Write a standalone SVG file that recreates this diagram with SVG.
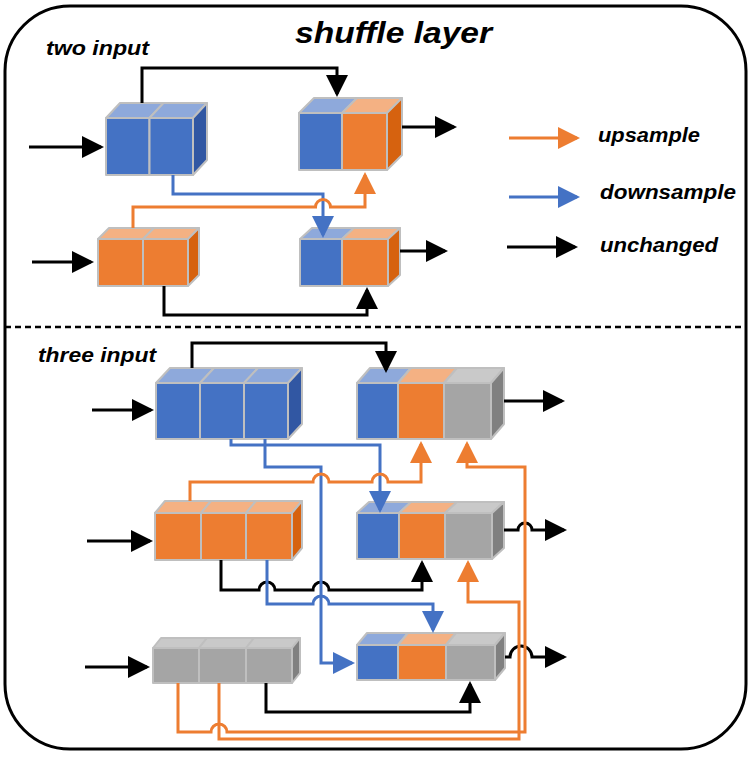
<svg xmlns="http://www.w3.org/2000/svg" width="754" height="768" viewBox="0 0 754 768">
<defs>
<style>
.cell{stroke:#BFBFBF;stroke-width:2;stroke-linejoin:round}
.bf{fill:#4472C4}.bt{fill:#8EA9DB}.bs{fill:#3157A3}
.of{fill:#ED7D31}.ot{fill:#F4B183}.os{fill:#D6620F}
.gf{fill:#A5A5A5}.gt{fill:#C9C9C9}.gs{fill:#808080}
.ln{fill:none;stroke-width:3;stroke-linejoin:miter}
.k{stroke:#000}.o{stroke:#ED7D31}.b{stroke:#4472C4}
.ka{marker-end:url(#ak)}.oa{marker-end:url(#ao)}.ba{marker-end:url(#ab)}
.t{font-family:"Liberation Sans",Arial,sans-serif;font-weight:bold;font-style:italic;fill:#000}
</style>
<marker id="ak" markerUnits="userSpaceOnUse" markerWidth="22" markerHeight="22" viewBox="0 0 22 22" refX="19" refY="11" orient="auto"><path d="M0,0 L22,11 L0,22 z" fill="#000"/></marker>
<marker id="ao" markerUnits="userSpaceOnUse" markerWidth="22" markerHeight="22" viewBox="0 0 22 22" refX="19" refY="11" orient="auto"><path d="M0,0 L22,11 L0,22 z" fill="#ED7D31"/></marker>
<marker id="ab" markerUnits="userSpaceOnUse" markerWidth="22" markerHeight="22" viewBox="0 0 22 22" refX="19" refY="11" orient="auto"><path d="M0,0 L22,11 L0,22 z" fill="#4472C4"/></marker>
</defs>
<rect x="0" y="0" width="754" height="768" fill="#fff"/>
<rect x="5" y="6" width="741" height="743" rx="65" ry="65" fill="none" stroke="#000" stroke-width="3"/>
<line x1="5" y1="327" x2="746" y2="327" stroke="#000" stroke-width="2.5" stroke-dasharray="6 4"/>

<text class="t" x="295" y="43" font-size="29" textLength="197" lengthAdjust="spacingAndGlyphs">shuffle layer</text>
<text class="t" x="46" y="55" font-size="20" textLength="103" lengthAdjust="spacingAndGlyphs">two input</text>
<text class="t" x="38" y="362" font-size="21" textLength="118" lengthAdjust="spacingAndGlyphs">three input</text>

<g id="legend">
<text class="t" x="598" y="142" font-size="21" textLength="102" lengthAdjust="spacingAndGlyphs">upsample</text>
<text class="t" x="600" y="199" font-size="21" textLength="136" lengthAdjust="spacingAndGlyphs">downsample</text>
<text class="t" x="600" y="252" font-size="21" textLength="118" lengthAdjust="spacingAndGlyphs">unchanged</text>
</g>

<g id="boxA">
<rect class="cell bf" x="106" y="118" width="43.5" height="57"/>
<rect class="cell bf" x="149.5" y="118" width="43.5" height="57"/>
<polygon class="cell bt" points="106,118 120,103 163.5,103 149.5,118"/>
<polygon class="cell bt" points="149.5,118 163.5,103 207,103 193,118"/>
<polygon class="cell bs" points="193,118 207,103 207,160 193,175"/>
</g>
<g id="boxB">
<rect class="cell bf" x="299" y="113" width="43" height="57"/>
<rect class="cell of" x="342" y="113" width="45" height="57"/>
<polygon class="cell bt" points="299,113 314,98 357,98 342,113"/>
<polygon class="cell ot" points="342,113 357,98 402,98 387,113"/>
<polygon class="cell os" points="387,113 402,98 402,155 387,170"/>
</g>
<g id="boxC">
<rect class="cell of" x="98" y="239" width="45" height="47"/>
<rect class="cell of" x="143" y="239" width="45" height="47"/>
<polygon class="cell ot" points="98,239 109,228 154,228 143,239"/>
<polygon class="cell ot" points="143,239 154,228 199,228 188,239"/>
<polygon class="cell os" points="188,239 199,228 199,275 188,286"/>
</g>
<g id="boxD">
<rect class="cell bf" x="300" y="239" width="42" height="47"/>
<rect class="cell of" x="342" y="239" width="46" height="47"/>
<polygon class="cell bt" points="300,239 312,228 354,228 342,239"/>
<polygon class="cell ot" points="342,239 354,228 400,228 388,239"/>
<polygon class="cell os" points="388,239 400,228 400,275 388,286"/>
</g>
<g id="boxE">
<rect class="cell bf" x="156" y="383" width="44" height="56"/>
<rect class="cell bf" x="200" y="383" width="44" height="56"/>
<rect class="cell bf" x="244" y="383" width="44" height="56"/>
<polygon class="cell bt" points="156,383 170,368 214,368 200,383"/>
<polygon class="cell bt" points="200,383 214,368 258,368 244,383"/>
<polygon class="cell bt" points="244,383 258,368 302,368 288,383"/>
<polygon class="cell bs" points="288,383 302,368 302,424 288,439"/>
</g>
<g id="boxF">
<rect class="cell bf" x="357" y="383" width="41" height="56"/>
<rect class="cell of" x="398" y="383" width="46" height="56"/>
<rect class="cell gf" x="444" y="383" width="47" height="56"/>
<polygon class="cell bt" points="357,383 370,368 411,368 398,383"/>
<polygon class="cell ot" points="398,383 411,368 457,368 444,383"/>
<polygon class="cell gt" points="444,383 457,368 504,368 491,383"/>
<polygon class="cell gs" points="491,383 504,368 504,424 491,439"/>
</g>
<g id="boxG">
<rect class="cell of" x="155" y="513" width="46" height="47"/>
<rect class="cell of" x="201" y="513" width="45" height="47"/>
<rect class="cell of" x="246" y="513" width="46" height="47"/>
<polygon class="cell ot" points="155,513 165,501 211,501 201,513"/>
<polygon class="cell ot" points="201,513 211,501 256,501 246,513"/>
<polygon class="cell ot" points="246,513 256,501 302,501 292,513"/>
<polygon class="cell os" points="292,513 302,501 302,548 292,560"/>
</g>
<g id="boxH">
<rect class="cell bf" x="357" y="513" width="42" height="46"/>
<rect class="cell of" x="399" y="513" width="46" height="46"/>
<rect class="cell gf" x="445" y="513" width="47" height="46"/>
<polygon class="cell bt" points="357,513 369,502 411,502 399,513"/>
<polygon class="cell ot" points="399,513 411,502 457,502 445,513"/>
<polygon class="cell gt" points="445,513 457,502 504,502 492,513"/>
<polygon class="cell gs" points="492,513 504,502 504,548 492,559"/>
</g>
<g id="boxI">
<rect class="cell gf" x="153" y="648" width="46" height="35"/>
<rect class="cell gf" x="199" y="648" width="47" height="35"/>
<rect class="cell gf" x="246" y="648" width="46" height="35"/>
<polygon class="cell gt" points="153,648 161,638 207,638 199,648"/>
<polygon class="cell gt" points="199,648 207,638 254,638 246,648"/>
<polygon class="cell gt" points="246,648 254,638 300,638 292,648"/>
<polygon class="cell gs" points="292,648 300,638 300,673 292,683"/>
</g>
<g id="boxJ">
<rect class="cell bf" x="357" y="645" width="41" height="35"/>
<rect class="cell of" x="398" y="645" width="48" height="35"/>
<rect class="cell gf" x="446" y="645" width="49" height="35"/>
<polygon class="cell bt" points="357,645 367,633 408,633 398,645"/>
<polygon class="cell ot" points="398,645 408,633 456,633 446,645"/>
<polygon class="cell gt" points="446,645 456,633 505,633 495,645"/>
<polygon class="cell gs" points="495,645 505,633 505,668 495,680"/>
</g>

<g id="connectors">
<path class="ln k ka" d="M29,147 H101"/>
<path class="ln k ka" d="M32,262 H91"/>
<path class="ln k ka" d="M402,127 H454"/>
<path class="ln k ka" d="M400,251 H445"/>
<path class="ln k ka" d="M142,103 V68 H337 V94"/>
<path class="ln k ka" d="M164,286 V315 H367 V290"/>
<path class="ln b ba" d="M173,175 V194 H323 V235"/>
<path class="ln o oa" d="M133,228 V207 H315.5 A7.5 7.5 0 0 1 330.5,207 H365 V175"/>

<path class="ln o oa" d="M509,138 H577"/>
<path class="ln b ba" d="M509,197 H577"/>
<path class="ln k ka" d="M507,247 H575"/>

<path class="ln k ka" d="M92,410 H151"/>
<path class="ln k ka" d="M504,401 H562"/>
<path class="ln k ka" d="M87,541 H150"/>
<path class="ln k ka" d="M504,530 H518 A7 7 0 0 1 532,530 H564"/>
<path class="ln k ka" d="M85,667 H147"/>
<path class="ln k ka" d="M505,657 H510 A11 11 0 0 1 532,657 H564"/>
<path class="ln k ka" d="M192,368 V343 H386 V370"/>
<path class="ln k ka" d="M221,560 V590 H259 A8 8 0 0 1 275,590 H313 A8 8 0 0 1 329,590 H422 V563"/>
<path class="ln k ka" d="M266,683 V712 H470 V684"/>
<path class="ln b ba" d="M231,439 V445 H380 V510"/>
<path class="ln b ba" d="M265,439 V467 H321 V663 H352"/>
<path class="ln b ba" d="M267,560 V604 H313 A8 8 0 0 1 329,604 H433 V630"/>
<path class="ln o oa" d="M190,501 V482 H313 A8 8 0 0 1 329,482 H372 A8 8 0 0 1 388,482 H421 V444"/>
<path class="ln o oa" d="M178,683 V732 H211 A8 8 0 0 1 227,732 H525 V467 H467 V444"/>
<path class="ln o oa" d="M219,683 V739 H519 V602 H468 V563"/>
</g>
</svg>
